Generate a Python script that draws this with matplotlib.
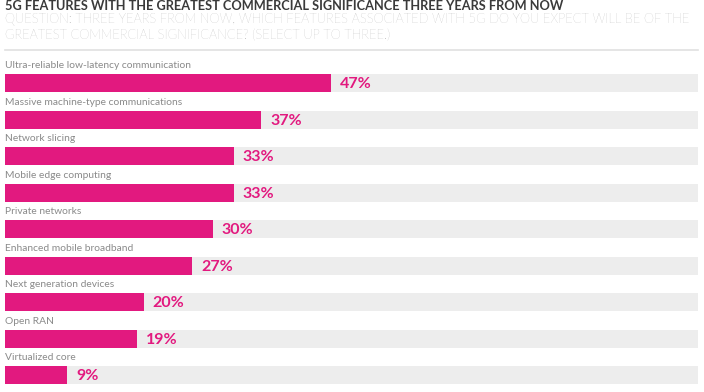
import matplotlib
matplotlib.use("Agg")
import matplotlib.pyplot as plt

# === Data ===
features = [
    "Ultra-reliable low-latency communication",
    "Massive machine-type communications",
    "Network slicing",
    "Mobile edge computing",
    "Private networks",
    "Enhanced mobile broadband",
    "Next generation devices",
    "Open RAN",
    "Virtualized core",
]
shares = [47, 37, 33, 33, 30, 27, 20, 19, 9]

PINK = "#E2197F"
TRACK = "#EDEDED"

plt.rcParams["font.family"] = ["Lato", "DejaVu Sans"]

W, H = 704, 392
fig = plt.figure(figsize=(W / 100, H / 100), dpi=100)

# header text
fig.text(5 / W, 1 - 6 / H, "5G FEATURES WITH THE GREATEST COMMERCIAL SIGNIFICANCE THREE YEARS FROM NOW",
         fontsize=9.2, fontweight="bold", color="#3a3a3a", va="center", ha="left")
fig.text(5 / W, 1 - 20 / H, "QUESTION: THREE YEARS FROM NOW, WHICH FEATURES ASSOCIATED WITH 5G DO YOU EXPECT WILL BE OF THE",
         fontsize=9.3, fontweight="light", color="#999999", va="center", ha="left")
fig.text(5 / W, 1 - 35.5 / H, "GREATEST COMMERCIAL SIGNIFICANCE? (SELECT UP TO THREE.)",
         fontsize=9.3, fontweight="light", color="#999999", va="center", ha="left")
fig.add_artist(plt.Line2D([5 / W, 698 / W], [1 - 50 / H, 1 - 50 / H], color="#e0e0e0", linewidth=1.2))

# bars axes: row pitch 36.5px, first bar centre at y=83px
pitch = 36.5
top_px = 83 - 0.75 * pitch
bot_px = 83 + 8 * pitch + 0.5 * pitch
ax = fig.add_axes([5 / W, (H - bot_px) / H, 693 / W, (bot_px - top_px) / H])
ax.set_xlim(0, 100)
ax.set_ylim(8.5, -0.75)
ax.axis("off")

ypos = list(range(len(features)))
bh = 18 / pitch
ax.barh(ypos, [100] * len(features), height=bh, color=TRACK, linewidth=0)
ax.barh(ypos, shares, height=bh, color=PINK, linewidth=0)

for y, name, v in zip(ypos, features, shares):
    ax.text(0, y - 0.47, name, fontsize=7.4, color="#8a8a8a", va="center", ha="left")
    ax.text(v + 1.3, y + 0.04, f"{v}%", fontsize=11.5, fontweight="bold", color=PINK, va="center", ha="left")

fig.savefig("out.png", dpi=100)
